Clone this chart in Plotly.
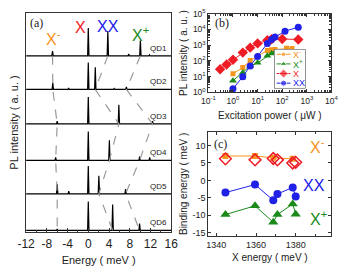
import plotly.graph_objects as go

# ---------------- Panel (a): PL spectra ----------------
qd_names = ["QD1", "QD2", "QD3", "QD4", "QD5", "QD6"]
qd_offsets = [184, 149, 113, 75, 40, 2]
# peak energies (meV, relative to X) and heights (a.u.)
qd_peak_E = [
    [-6.9, 0.0, 3.77, 7.8, 10.05, 11.8],
    [-6.85, -3.8, 0.0, 1.35, 5.0, 7.35],
    [-6.0, 0.0, 5.9, 12.4],
    [-6.3, 0.0, 4.07, 9.9, 11.85],
    [-6.0, -3.77, 0.0, 2.04, 7.2],
    [-6.0, 0.0, 4.7, 9.9],
]
qd_peak_h = [
    [5, 29, 26, 2, 16, 1],
    [7, 1.5, 28, 23, 1, 2.5],
    [3, 28, 20, 3],
    [3, 30, 21, 4, 3],
    [10, 3, 29, 19, 5],
    [1.5, 30, 27, 7],
]
xminus_E = [-6.9, -6.85, -6.0, -6.3, -6.0, -6.0]
xx_E = [3.77, 1.35, 5.9, 4.07, 2.04, 4.7]
xplus_E = [10.05, 7.35, 12.4, 9.9, 7.2, 9.9]
a_ticks = [-12, -8, -4, 0, 4, 8, 12, 16]
a_ticktext = ["-12", "-8", "-4", "0", "4", "8", "12", "16"]

# ---------------- Panel (b): power dependence ----------------
pw_xm = [1, 2.5, 5, 25, 37, 51, 150, 250]
int_xm = [15.5, 38, 105, 470, 520, 540, 650, 620]
pw_xp = [1, 2.5, 5, 10, 25, 37, 51, 150, 250]
int_xp = [5.6, 18, 48, 76, 215, 295, 340, 370, 325]
pw_x = [0.3, 0.55, 1, 2.5, 5, 10, 25, 37, 100, 450]
int_x = [30, 60, 120, 340, 700, 1300, 2100, 2400, 2500, 2300]
pw_xx = [1, 2.5, 5, 10, 25, 37, 51, 130, 450]
int_xx = [1.7, 10, 48, 190, 1300, 2300, 3300, 7800, 14000]
b_xticks = [0.1, 1, 10, 100, 1000, 10000]
b_xticktext = ["10<sup>-1</sup>", "10<sup>0</sup>", "10<sup>1</sup>", "10<sup>2</sup>", "10<sup>3</sup>", "10<sup>4</sup>"]
b_yticks = [1, 10, 100, 1000, 10000, 100000]
b_yticktext = ["10<sup>0</sup>", "10<sup>1</sup>", "10<sup>2</sup>", "10<sup>3</sup>", "10<sup>4</sup>", "10<sup>5</sup>"]
legend_names = ["X<sup>-</sup>", "X<sup>+</sup>", "X", "XX"]

# ---------------- Panel (c): binding energies ----------------
xe_sq = [1344.6, 1359.5, 1368.7, 1378.5]
be_xm_sq = [7.0, 7.0, 6.5, 6.2]
xe_all = [1344.6, 1359.5, 1368.7, 1370.8, 1378.5, 1380.0]
be_xm_d = [6.2, 5.9, 6.3, 5.9, 5.0, 5.2]
be_xx = [-3.5, -1.2, -5.7, -3.9, -2.0, -4.6]
be_xp = [-9.8, -7.3, -12.0, -9.8, -6.8, -9.7]
c_yticks = [-15, -10, -5, 0, 5, 10]
c_yticktext = ["-15", "-10", "-5", "0", "5", "10"]

ORANGE = "#f7941d"
GREEN = "#1b8a1b"
RED = "#ee1c25"
BLUE = "#2020e6"
GRAY = "#9a9a9a"
FONT = "Liberation Sans, Arial, sans-serif"

fig = go.Figure()

# spectra
W = 0.13
for name, off, Es, Hs in zip(qd_names, qd_offsets, qd_peak_E, qd_peak_h):
    xs, ys = [-12.0], [off]
    for e, h in sorted(zip(Es, Hs)):
        xs += [e - W, e, e + W]
        ys += [off, off + h, off]
    xs.append(16.0)
    ys.append(off)
    fig.add_trace(go.Scatter(x=xs, y=ys, mode="lines", line=dict(color="black", width=1.2),
                             showlegend=False, xaxis="x", yaxis="y", hoverinfo="skip"))
    fig.add_annotation(x=15.6, y=off + 1, xref="x", yref="y", text=name, showarrow=False,
                       xanchor="right", yanchor="bottom", font=dict(size=8, color="#222", family=FONT))

for Es in (xminus_E, xx_E, xplus_E):
    fig.add_trace(go.Scatter(x=Es, y=qd_offsets, mode="lines",
                             line=dict(color=GRAY, width=1.2, dash="dash"),
                             showlegend=False, xaxis="x", yaxis="y", hoverinfo="skip"))

# (b)
series_b = [
    (pw_xm, int_xm, ORANGE, "square", 5),
    (pw_xp, int_xp, GREEN, "triangle-up", 7),
    (pw_x, int_x, RED, "diamond", 8),
    (pw_xx, int_xx, BLUE, "circle", 7),
]
for xs, ys, col, sym, sz in series_b:
    fig.add_trace(go.Scatter(x=xs, y=ys, mode="lines+markers", xaxis="x2", yaxis="y2",
                             line=dict(color=col, width=1),
                             marker=dict(color=col, symbol=sym, size=sz), showlegend=False))

# compact legend for (b) on its own hidden axes (drawn above panel b)
fig.add_trace(go.Scatter(x=[0, 1, 1, 0, 0], y=[0, 0, 1, 1, 0], mode="lines", fill="toself",
                         fillcolor="white", line=dict(color="#333", width=1),
                         xaxis="x4", yaxis="y4", showlegend=False, hoverinfo="skip"))
for i, ((xs, ys, col, sym, sz), nm) in enumerate(zip(series_b, legend_names)):
    yrow = 0.87 - i * 0.245
    fig.add_trace(go.Scatter(x=[0.08, 0.3, 0.52], y=[yrow] * 3, mode="lines+markers",
                             xaxis="x4", yaxis="y4", line=dict(color=col, width=1),
                             marker=dict(color=col, symbol=sym, size=[0, sz - 1, 0]),
                             showlegend=False, hoverinfo="skip"))
    fig.add_annotation(x=0.55, y=yrow, xref="x4", yref="y4", text=nm, showarrow=False,
                       xanchor="left", yanchor="middle", font=dict(size=9, color=col, family=FONT))

# (c)
fig.add_trace(go.Scatter(x=xe_sq, y=be_xm_sq, mode="lines+markers", xaxis="x3", yaxis="y3",
                         line=dict(color=ORANGE, width=1), marker=dict(color=ORANGE, symbol="square", size=6),
                         showlegend=False))
fig.add_trace(go.Scatter(x=xe_all, y=be_xm_d, mode="markers", xaxis="x3", yaxis="y3",
                         marker=dict(color=RED, symbol="diamond-open", size=9, line=dict(width=1.5)),
                         showlegend=False))
fig.add_trace(go.Scatter(x=xe_all, y=be_xx, mode="lines+markers", xaxis="x3", yaxis="y3",
                         line=dict(color=BLUE, width=1), marker=dict(color=BLUE, symbol="circle", size=8),
                         showlegend=False))
fig.add_trace(go.Scatter(x=xe_all, y=be_xp, mode="lines+markers", xaxis="x3", yaxis="y3",
                         line=dict(color=GREEN, width=1), marker=dict(color=GREEN, symbol="triangle-up", size=9),
                         showlegend=False))

axcommon = dict(showline=True, linecolor="#333", linewidth=1, mirror=True, ticks="inside",
                showgrid=False, zeroline=False, tickcolor="#333")

fig.update_layout(
    width=345, height=269, margin=dict(l=0, r=0, t=0, b=0),
    paper_bgcolor="white", plot_bgcolor="white",
    font=dict(family=FONT, color="#222"),
    showlegend=False,
    xaxis=dict(domain=[0.052, 0.493], anchor="y", range=[-12, 16], tickvals=a_ticks, ticktext=a_ticktext,
               ticklen=4, minor=dict(ticks="inside", dtick=2, tick0=-12, ticklen=2, tickcolor="#333"),
               title=dict(text="Energy ( meV )", font=dict(size=11), standoff=6),
               tickfont=dict(family=FONT, size=12, color="#222"), **axcommon),
    yaxis=dict(domain=[0.123, 0.974], anchor="x", range=[0, 229], showticklabels=False,
               title=dict(text="PL intensity ( a. u. )", font=dict(size=11), standoff=4),
               **{**axcommon, "ticks": ""}),
    xaxis2=dict(domain=[0.606, 0.98], anchor="y2", type="log", range=[-1, 4],
                tickvals=b_xticks, ticktext=b_xticktext, ticklen=3,
                minor=dict(ticks="inside", ticklen=2, dtick="D1", tickcolor="#333"),
                title=dict(text="Excitation power ( μW )", font=dict(size=10), standoff=7),
                tickfont=dict(family=FONT, size=8.5, color="#222"), **{**axcommon, "mirror": "allticks"}),
    yaxis2=dict(domain=[0.665, 0.97], anchor="x2", type="log", range=[0, 5],
                tickvals=b_yticks, ticktext=b_yticktext, ticklen=3,
                minor=dict(ticks="inside", ticklen=2, dtick="D1", tickcolor="#333"),
                title=dict(text="PL intensity ( a. u. )", font=dict(size=10), standoff=3),
                tickfont=dict(family=FONT, size=8.5, color="#222"), **{**axcommon, "mirror": "allticks"}),
    xaxis3=dict(domain=[0.606, 0.98], anchor="y3", range=[1336, 1398], dtick=20, tick0=1340, ticklen=3,
                minor=dict(ticks="inside", ticklen=2, dtick=10, tickcolor="#333"),
                title=dict(text="X energy ( meV )", font=dict(size=10), standoff=5),
                tickfont=dict(family=FONT, size=9, color="#222"), **{**axcommon, "mirror": "allticks"}),
    yaxis3=dict(domain=[0.108, 0.513], anchor="x3", range=[-16, 14], tickvals=c_yticks, ticktext=c_yticktext,
                ticklen=3, title=dict(text="Binding energy ( meV )", font=dict(size=10), standoff=3),
                tickfont=dict(family=FONT, size=9, color="#222"), **{**axcommon, "mirror": "allticks"}),
    xaxis4=dict(domain=[278 / 345, 311 / 345], anchor="y4", range=[0, 1], visible=False, fixedrange=True),
    yaxis4=dict(domain=[1 - 86 / 269, 1 - 45 / 269], anchor="x4", range=[0, 1], visible=False, fixedrange=True),
)

def lab(x, y, text, color, size=16, xref="paper", yref="paper", family=FONT):
    fig.add_annotation(x=x, y=y, xref=xref, yref=yref, text=text, showarrow=False,
                       font=dict(size=size, color=color, family=family), xanchor="center", yanchor="middle")

# panel labels
lab(29 / 345, 1 - 18 / 269, "(a)", "#222", size=12, family="Liberation Serif, serif")
lab(223 / 345, 1 - 18 / 269, "(b)", "#222", size=12, family="Liberation Serif, serif")
lab(222 / 345, 1 - 144 / 269, "(c)", "#222", size=12, family="Liberation Serif, serif")
# peak labels in (a)
lab(47 / 345, 1 - 33 / 269, "X<sup>-</sup>", ORANGE)
lab(75 / 345, 1 - 22 / 269, "X", RED)
lab(104 / 345, 1 - 21 / 269, "XX", BLUE)
lab(138 / 345, 1 - 29 / 269, "X<sup>+</sup>", GREEN)
# labels in (c)
lab(324 / 345, 1 - 146 / 269, "X<sup>-</sup>", ORANGE)
lab(320 / 345, 1 - 187 / 269, "XX", BLUE)
lab(325 / 345, 1 - 221 / 269, "X<sup>+</sup>", GREEN)

fig.write_html("out.html")
